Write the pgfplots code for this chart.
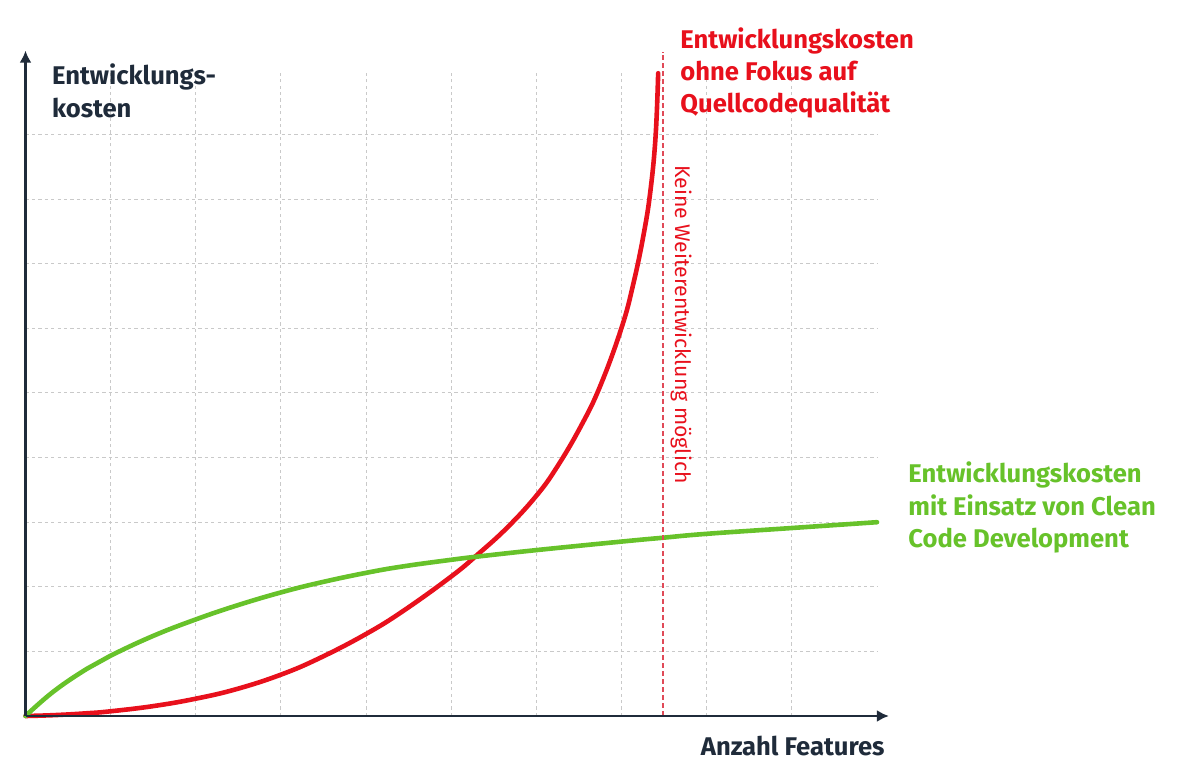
\documentclass[border=0pt]{standalone}
\usepackage{pgfplots}
\pgfplotsset{compat=1.18}
\usepackage{fontspec}
\setmainfont{Fira Sans}
\usetikzlibrary{arrows.meta}

\definecolor{axisdark}{HTML}{1F2B3A}
\definecolor{cred}{HTML}{E8101C}
\definecolor{cgreen}{HTML}{67C22A}
\definecolor{gridgray}{HTML}{C9C9C9}
\definecolor{limitred}{HTML}{E04A58}

\begin{document}
\begin{tikzpicture}
    \begin{axis}[
        scale only axis,
        width=425.75pt,
        height=323pt,
        xmin=0, xmax=10,
        ymin=0, ymax=10,
        axis line style={draw=none},
        tick style={draw=none},
        clip=false,
        xtick={1,...,9},
        ytick={1,...,9},
        xticklabels={},
        yticklabels={},
        grid=major,
        major grid style={gridgray, line width=0.5pt, dash pattern=on 1.6pt off 1.6pt},
    ]
    \coordinate (O) at (axis cs:0,0);

    % cost without code quality
    \addplot[cred, line width=2.3pt, smooth, tension=0.7, line cap=round] coordinates {
        (0,0) (0.33,0.013) (0.72,0.042) (1,0.073) (1.5,0.153) (2,0.268)
        (2.48,0.417) (3,0.64) (3.46,0.90) (4,1.27) (4.44,1.63) (5,2.16)
        (5.31,2.50) (5.66,2.92) (6,3.41) (6.24,3.85) (6.52,4.48) (6.75,5.11)
        (7.0,6.01) (7.14,6.70) (7.26,7.46) (7.34,8.14) (7.40,8.98) (7.43,9.95)
    };

    % cost with clean code development
    \addplot[cgreen, line width=2.3pt, smooth, tension=0.7, line cap=round] coordinates {
        (0,0) (0.33,0.38) (0.72,0.73) (1,0.934) (1.5,1.24) (2,1.495)
        (2.48,1.71) (3,1.913) (3.46,2.065) (4,2.216) (4.44,2.317) (5,2.418)
        (5.31,2.468) (6,2.568) (7,2.70) (7.49,2.76) (8,2.82) (9,2.91) (10,3.0)
    };

    % limit line
    \draw[color=limitred, line width=0.8pt, dash pattern=on 2.5pt off 1.5pt]
        (axis cs:7.49,0) -- (axis cs:7.49,10.28);

    % axes with arrows
    \draw[axisdark, line width=1.2pt, -{Latex[length=6pt, width=6pt]}]
        (axis cs:0,0) -- (axis cs:10.14,0);
    \draw[axisdark, line width=1.2pt, -{Latex[length=6pt, width=6pt]}]
        (axis cs:0,0) -- (axis cs:0,10.3);

    % axis labels
    \node[anchor=base west, inner sep=0, font=\bfseries\fontsize{12.8}{15}\selectfont, text=axisdark]
        at (axis cs:0.307,9.783) {Entwicklungs-};
    \node[anchor=base west, inner sep=0, font=\bfseries\fontsize{12.8}{15}\selectfont, text=axisdark]
        at (axis cs:0.307,9.268) {kosten};
    \node[anchor=base east, inner sep=0, font=\bfseries\fontsize{12.8}{15}\selectfont, text=axisdark]
        at (axis cs:10.094,-0.604) {Anzahl Features};

    % red label
    \node[anchor=base west, inner sep=0, font=\bfseries\fontsize{12.8}{15}\selectfont, text=cred]
        at (axis cs:7.687,10.34) {Entwicklungskosten};
    \node[anchor=base west, inner sep=0, font=\bfseries\fontsize{12.8}{15}\selectfont, text=cred]
        at (axis cs:7.687,9.845) {ohne Fokus auf};
    \node[anchor=base west, inner sep=0, font=\bfseries\fontsize{12.8}{15}\selectfont, text=cred]
        at (axis cs:7.687,9.34) {Quellcodequalität};

    % green label
    \node[anchor=base west, inner sep=0, font=\bfseries\fontsize{12.8}{15}\selectfont, text=cgreen]
        at (axis cs:10.364,3.607) {Entwicklungskosten};
    \node[anchor=base west, inner sep=0, font=\bfseries\fontsize{12.8}{15}\selectfont, text=cgreen]
        at (axis cs:10.364,3.111) {mit Einsatz von Clean};
    \node[anchor=base west, inner sep=0, font=\bfseries\fontsize{12.8}{15}\selectfont, text=cgreen]
        at (axis cs:10.364,2.616) {Code Development};

    % vertical note
    \node[anchor=base west, inner sep=0, rotate=-90, font=\fontsize{10.6}{12}\selectfont, text=cred]
        at (axis cs:7.63,8.53) {Keine Weiterentwicklung möglich};
    \end{axis}
    \pgfresetboundingbox
    \path[use as bounding box] (O) ++(-12.75pt,-30pt) rectangle ++(600pt,388pt);
\end{tikzpicture}
\end{document}
